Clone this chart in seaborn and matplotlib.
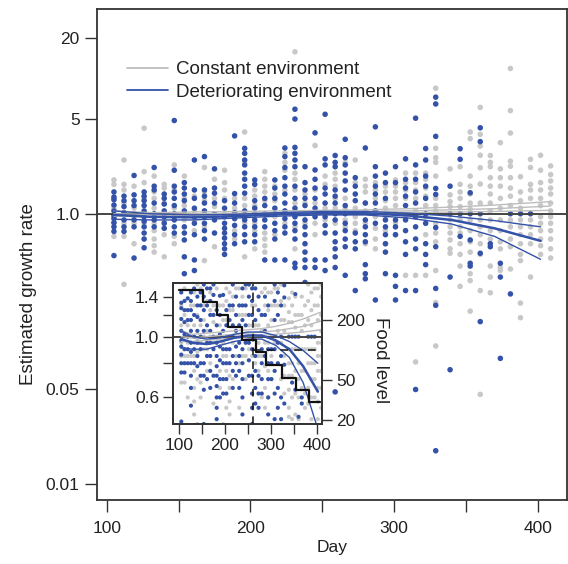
import numpy as np
import pandas as pd
import matplotlib
matplotlib.use("Agg")
import matplotlib.pyplot as plt
import seaborn as sns
from matplotlib.lines import Line2D
from matplotlib.ticker import NullLocator

# sampling days (one column of points per day)
days = [105, 112, 119, 126, 133, 140, 147, 154, 161, 168, 175, 182, 189, 196,
        203, 210, 217, 224, 231, 238, 245, 252, 259, 266, 273, 280, 287, 294,
        301, 308, 315, 322, 329, 339, 346, 353, 360, 367, 374, 381, 388, 395,
        402, 409]

# estimated growth rates, deteriorating environment (blue)
blue_rates = [
    [1.45, 1.33, 1.27, 1.16, 1.05, 0.97, 0.92, 0.86, 0.8, 0.74, 0.49],
    [1.35, 1.25, 1.13, 1.02, 0.9, 0.8, 0.74],
    [1.92, 1.38, 1.25, 1.15, 1.0, 0.9, 0.8, 0.47],
    [1.45, 1.35, 1.25, 1.15, 1.05, 0.95, 0.88, 0.8, 0.72, 0.65, 0.56],
    [2.2, 1.6, 1.5, 1.2, 1.0, 0.9, 0.8],
    [1.4, 1.3, 1.18, 1.05, 0.95, 0.85, 0.78],
    [4.9, 2.1, 1.6, 1.45, 1.3, 1.15, 1.0, 0.9, 0.8, 0.72],
    [1.7, 1.55, 1.4, 1.25, 1.05, 0.8, 0.72, 0.64, 0.48, 0.36],
    [2.5, 1.5, 1.3, 1.1, 0.95, 0.85, 0.7, 0.455, 0.38],
    [2.65, 1.5, 1.35, 1.2, 1.05, 0.95, 0.85, 0.75, 0.65],
    [2.15, 1.55, 1.42, 1.2, 1.0, 0.9, 0.72],
    [1.25, 1.1, 0.95, 0.85, 0.78, 0.72, 0.66, 0.6, 0.55, 0.5],
    [3.77, 1.41, 1.2, 1.02, 0.92, 0.82, 0.7, 0.6],
    [3.05, 2.8, 2.5, 2.3, 2.0, 1.8, 1.6, 1.42, 1.05, 0.9, 0.8, 0.7, 0.62],
    [1.78, 1.65, 1.25, 1.1, 1.0, 0.9, 0.8, 0.7, 0.62],
    [1.3, 1.15, 1.0, 0.9, 0.8, 0.455],
    [1.78, 1.55, 1.3, 1.1, 1.0, 0.85, 0.75, 0.65, 0.455],
    [3.07, 2.65, 2.2, 1.85, 1.6, 1.4, 1.2, 1.05, 0.92, 0.8, 0.72, 0.455],
    [5.94, 5.03, 3.1, 2.8, 2.5, 2.23, 1.6, 1.3, 1.1, 0.95, 0.85, 0.75, 0.65, 0.43, 0.4],
    [2.23, 1.7, 1.5, 1.3, 1.15, 0.9, 0.8, 0.7, 0.6, 0.52, 0.455, 0.4, 0.31],
    [3.97, 2.11, 1.8, 1.55, 1.3, 1.1, 0.95, 0.455, 0.4],
    [5.45, 2.55, 2.3, 1.55, 1.4, 1.2, 0.95, 0.82, 0.72, 0.455, 0.38],
    [2.7, 2.4, 2.23, 1.5, 1.35, 1.2, 1.0, 0.9, 0.72, 0.62, 0.55, 0.48, 0.4, 0.048],
    [3.56, 2.6, 2.3, 2.0, 1.75, 1.5, 1.15, 1.0, 0.85, 0.75, 0.65, 0.57, 0.35],
    [1.85, 1.6, 1.4, 1.25, 0.72, 0.62, 0.55, 0.27],
    [3.07, 1.2, 0.9, 0.8, 0.7, 0.62, 0.42, 0.36, 0.33],
    [4.4, 2.23, 1.9, 1.6, 1.4, 1.2, 1.05, 0.85, 0.23],
    [2.0, 1.7, 1.3, 0.9, 0.8, 0.7, 0.6, 0.52, 0.36],
    [2.23, 1.7, 0.9, 0.8, 0.7, 0.35, 0.29, 0.23],
    [2.55, 1.8, 1.55, 1.35, 1.15, 0.9, 0.75, 0.62, 0.5, 0.27],
    [5.1, 2.3, 1.8, 1.45, 1.2, 0.95, 0.8, 0.65, 0.55, 0.27, 0.05],
    [3.04, 2.5, 1.9, 1.6, 1.3, 1.0, 0.85, 0.6, 0.5, 0.42],
    [7.3, 6.5, 3.74, 1.54, 1.39, 0.79, 0.57, 0.28, 0.21, 0.0176],
    [1.6, 1.0, 0.34, 0.07],
    [3.03, 2.53, 1.0, 0.68],
    [1.43, 1.0, 0.64, 0.43, 0.41],
    [4.33, 3.42, 1.0, 0.51, 0.159],
    [0.6, 0.57],
    [0.43, 0.34, 0.085],
    [1.0, 0.255],
    [1.0],
    [1.0],
    [],
    [],
]

# estimated growth rates, constant environment (grey)
grey_rates = [
    [1.78, 1.65, 1.3, 1.1, 0.95, 0.85, 0.68],
    [2.5, 1.65, 1.5, 1.2, 1.0, 0.85, 0.68, 0.3],
    [1.6, 1.1, 0.95, 0.85, 0.6],
    [4.3, 2.05, 1.7, 1.3, 1.0, 0.85],
    [1.9, 1.45, 1.3, 1.1, 0.95, 0.85, 0.75, 0.65, 0.58, 0.52],
    [1.65, 1.55, 1.2, 0.98, 0.88, 0.7, 0.48],
    [2.3, 1.5, 1.1, 0.95, 0.68, 0.6],
    [1.9, 1.3, 1.15, 1.0, 0.9],
    [1.35, 1.05, 0.9, 0.75],
    [2.2, 1.45, 1.25, 1.0, 0.8, 0.45],
    [1.8, 1.3, 1.13, 0.95, 0.57],
    [2.1, 1.7, 1.5, 1.3, 1.0],
    [1.3, 1.1, 0.75, 0.65],
    [4.03, 2.4, 1.3, 1.15, 0.95, 0.85, 0.48],
    [1.5, 1.35, 1.15, 0.85, 0.75, 0.55],
    [2.05, 1.8, 1.6, 1.45, 1.25, 0.72, 0.65, 0.58, 0.52],
    [1.6, 1.4, 1.25, 0.95, 0.7],
    [2.8, 2.4, 2.1, 1.5, 1.0, 0.85],
    [15.8, 2.0, 1.8, 1.5, 1.2, 1.0, 0.8, 0.55],
    [1.4, 1.2, 1.0, 0.85],
    [3.2, 1.5, 1.2, 1.0, 0.85, 0.7],
    [1.9, 1.65, 1.1, 0.9],
    [2.0, 1.8, 1.6, 1.3, 1.1, 0.85],
    [2.4, 1.3, 1.1, 0.9, 0.8],
    [2.5, 1.7, 1.1, 0.95, 0.85, 0.75],
    [1.8, 1.6, 1.45, 1.2, 1.05, 0.85, 0.6],
    [1.7, 1.5, 1.3, 0.95, 0.78, 0.65, 0.55],
    [1.6, 1.45, 1.25, 1.1, 0.95, 0.75, 0.6],
    [1.78, 1.6, 1.45, 1.3, 1.15, 1.0, 0.85, 0.7],
    [2.0, 1.7, 1.5, 1.3, 0.95, 0.35],
    [2.0, 1.7, 1.5, 1.3, 1.05, 0.35, 0.08],
    [2.0, 1.8, 1.55, 1.35, 1.15, 0.95, 0.7, 0.35],
    [8.5, 3.05, 2.6, 2.4, 1.9, 1.3, 1.15, 1.05, 0.85, 0.72, 0.62, 0.38, 0.22, 0.105],
    [2.15, 1.38, 1.23, 1.13, 0.9, 0.8, 0.72, 0.64, 0.55, 0.51],
    [2.23, 1.65, 1.45, 1.3, 1.13, 0.9, 0.8, 0.72, 0.6, 0.5, 0.41, 0.29],
    [4.03, 3.6, 1.9, 1.6, 1.4, 1.2, 1.08, 0.9, 0.75, 0.62, 0.52, 0.36, 0.32, 0.19],
    [6.13, 3.87, 3.17, 2.71, 2.19, 1.66, 1.2, 0.9, 0.8, 0.7, 0.6, 0.5, 0.27, 0.046],
    [2.7, 2.4, 2.23, 1.85, 1.6, 1.4, 1.2, 1.05, 0.9, 0.75, 0.65, 0.41, 0.34, 0.26],
    [3.36, 2.15, 1.85, 1.6, 1.3, 1.1, 0.9, 0.75, 0.62, 0.55, 0.4, 0.38],
    [11.9, 5.8, 3.96, 2.45, 2.25, 1.85, 1.55, 1.35, 1.15, 0.9, 0.8, 0.65, 0.57, 0.39],
    [1.88, 1.45, 1.25, 1.1, 0.9, 0.8, 0.7, 0.6, 0.5, 0.45, 0.218, 0.17],
    [2.53, 2.2, 1.65, 1.5, 1.3, 0.9, 0.8, 0.7, 0.6, 0.34],
    [2.71, 2.1, 1.7, 1.5, 1.3, 1.15, 0.95, 0.85, 0.75, 0.65, 0.58, 0.5],
    [2.26, 1.95, 1.75, 1.55, 1.4, 1.2, 1.05, 0.95, 0.85, 0.75, 0.65, 0.55, 0.47],
]

# fitted trends (mean and 95% bounds)
blue_fit_days = [105, 130, 160, 190, 220, 250, 280, 310, 340, 370, 402]
blue_fit = [0.98, 0.95, 0.94, 0.96, 0.99, 1.01, 1.01, 0.97, 0.9, 0.78, 0.63]
blue_upper = [1.05, 1.0, 0.98, 0.99, 1.02, 1.04, 1.04, 1.01, 0.96, 0.89, 0.8]
blue_lower = [0.91, 0.9, 0.9, 0.93, 0.96, 0.98, 0.98, 0.93, 0.84, 0.68, 0.46]
grey_fit_days = [105, 130, 160, 190, 220, 250, 280, 310, 340, 370, 409]
grey_fit = [1.0, 0.99, 1.0, 1.01, 1.02, 1.03, 1.04, 1.05, 1.07, 1.09, 1.14]
grey_upper = [1.05, 1.02, 1.03, 1.04, 1.05, 1.06, 1.07, 1.09, 1.12, 1.16, 1.23]
grey_lower = [0.96, 0.96, 0.97, 0.98, 0.99, 1.0, 1.01, 1.02, 1.03, 1.04, 1.06]

# food supply schedule (inset)
food_days = [100, 153, 182, 207, 238, 267, 290, 324, 355, 382, 407]
food_level = [400, 300, 225, 169, 127, 95, 71, 53, 40, 30, 30]
food_cut_day = 262

BLUE = "#3352a8"
GREY = "#c8c8c8"
LABELS = ["Constant environment", "Deteriorating environment"]

pts = pd.DataFrame(
    [(d, r, LABELS[0]) for d, col in zip(days, grey_rates) for r in col]
    + [(d, r, LABELS[1]) for d, col in zip(days, blue_rates) for r in col],
    columns=["day", "rate", "env"],
)
fits = pd.DataFrame(
    [(d, v, LABELS[0], name) for name, ys in
     [("mean", grey_fit), ("upper", grey_upper), ("lower", grey_lower)]
     for d, v in zip(grey_fit_days, ys)]
    + [(d, v, LABELS[1], name) for name, ys in
       [("mean", blue_fit), ("upper", blue_upper), ("lower", blue_lower)]
       for d, v in zip(blue_fit_days, ys)],
    columns=["day", "rate", "env", "band"],
)
food = pd.DataFrame({"day": food_days, "food": food_level})

sns.set_theme(style="white")
plt.rcParams["font.family"] = ["Liberation Sans", "DejaVu Sans"]
plt.rcParams["text.color"] = "#222222"
plt.rcParams["axes.labelcolor"] = "#222222"
plt.rcParams["xtick.color"] = "#222222"
plt.rcParams["ytick.color"] = "#222222"

fig = plt.figure(figsize=(5.68, 5.64), dpi=100)
ax = fig.add_axes([97 / 568, 1 - 500 / 564, 470 / 568, 491 / 564])
axin = fig.add_axes([173 / 568, 1 - 424 / 564, 149 / 568, 141 / 564])


def draw_panel(a, size):
    a.set_yscale("log")
    sns.scatterplot(data=pts, x="day", y="rate", hue="env", hue_order=LABELS,
                    palette=[GREY, BLUE], s=size, linewidth=0, legend=False,
                    ax=a, zorder=2)
    a.axhline(1.0, color="#444444", lw=1.4, zorder=3)
    for (env, band), g in fits.groupby(["env", "band"]):
        col = "#bdbdbd" if env == LABELS[0] else BLUE
        lw = 1.8 if (band == "mean" and env == LABELS[1]) else 1.0
        sns.lineplot(data=g, x="day", y="rate", color=col, lw=lw,
                     estimator=None, ax=a, zorder=4)
    a.yaxis.set_minor_locator(NullLocator())
    a.set_xlabel("")
    a.set_ylabel("")
    for s in a.spines.values():
        s.set_color("#333333")
        s.set_linewidth(1.3)
    a.tick_params(direction="out", length=8.5, width=1, color="#333333",
                  labelsize=12.5, left=True, bottom=True)


# main panel
draw_panel(ax, 16)
ax.set_xlim(93.2, 420.4)
ax.set_ylim(0.0076, 32.8)
ax.set_yticks([0.01, 0.05, 1.0, 5, 20])
ax.set_yticklabels(["0.01", "0.05", "1.0", "5", "20"])
ax.set_xticks([100, 150, 200, 250, 300, 350, 400])
ax.set_xticklabels(["100", "", "200", "", "300", "", "400"])
ax.tick_params(axis="x", pad=6.5)
ax.tick_params(axis="y", pad=4)
ax.set_xlabel("Day", fontsize=12.5, labelpad=3)
ax.set_ylabel("Estimated growth rate", fontsize=13.5)
ax.yaxis.set_label_coords(-0.128, 0.42)

handles = [Line2D([], [], color="#bdbdbd", lw=1.3), Line2D([], [], color=BLUE, lw=1.3)]
ax.legend(handles, LABELS, loc="upper left", bbox_to_anchor=(0.064, 0.894),
          frameon=False, fontsize=13.5, handlelength=2.2, handletextpad=0.4,
          labelspacing=0.3, borderpad=0, borderaxespad=0)

# inset
draw_panel(axin, 9)
axin.set_xlim(87, 411)
axin.set_ylim(0.48, 1.57)
axin.set_yticks([0.6, 0.8, 1.0, 1.2, 1.4])
axin.set_yticklabels(["0.6", "", "1.0", "", "1.4"])
axin.set_xticks([100, 150, 200, 250, 300, 350, 400])
axin.set_xticklabels(["100", "", "200", "", "300", "", "400"])
axin.tick_params(length=7, pad=3)
axin.axvline(food_cut_day, color="#111111", lw=1.1, ls=(0, (5, 4)), zorder=5)

axr = axin.twinx()
axr.set_yscale("log")
sns.lineplot(data=food, x="day", y="food", color="#111111", lw=1.6,
             drawstyle="steps-post", estimator=None, ax=axr, zorder=6)
axr.hlines(100, food_cut_day, 411, color="#111111", lw=1.1, ls=(0, (5, 4)), zorder=5)
axr.set_xlim(87, 411)
axr.set_ylim(18.2, 469)
axr.set_yticks([20, 50, 200])
axr.set_yticklabels(["20", "50", "200"])
axr.yaxis.set_minor_locator(NullLocator())
axr.tick_params(axis="y", direction="out", length=7, width=1, color="#333333",
                labelsize=12.5, pad=3, right=True)
axr.set_xlabel("")
axr.set_ylabel("Food level", fontsize=13.5, rotation=270, va="center")
axr.yaxis.set_label_coords(1.39, 0.45)
for s in axr.spines.values():
    s.set_color("#333333")
    s.set_linewidth(1.3)

fig.savefig("out.png", dpi=100)
